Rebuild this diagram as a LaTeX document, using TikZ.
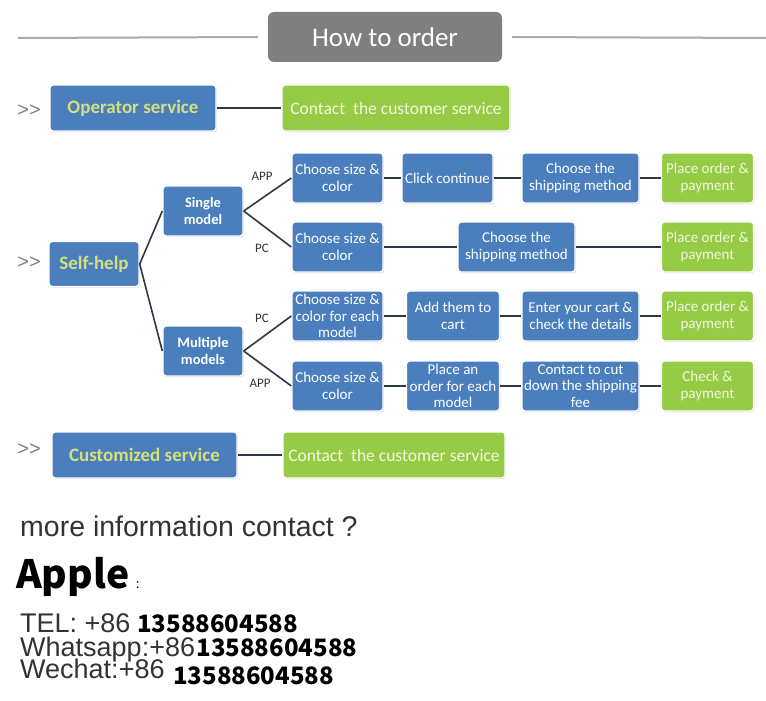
\documentclass[tikz,border=0pt]{standalone}
\usepackage{fontspec}
\setmainfont{Carlito}
\newfontfamily\infofont{Liberation Sans}
\newfontfamily\cjkfont{Noto Sans CJK SC}
\usepackage{xcolor}
\usepackage{tikz}
\usetikzlibrary{shadows, positioning, calc}
\definecolor{ordblue}{HTML}{4A7EBD}
\definecolor{ordgreen}{HTML}{96CC45}
\definecolor{ordgray}{HTML}{7F7F7F}
\definecolor{rulegray}{HTML}{ABABAB}
\definecolor{linkcol}{HTML}{2A3848}
\definecolor{headtext}{HTML}{D6E07A}
\definecolor{paytext}{HTML}{F3F6E2}
\definecolor{infogray}{HTML}{333333}
\tikzset{
  stepbox/.style={rectangle, rounded corners=3pt, fill=ordblue, draw=white,
    line width=1.4pt, drop shadow={shadow xshift=0.8pt, shadow yshift=-1.2pt, opacity=0.3},
    text=white, align=center, inner sep=1pt, minimum height=50,
    font=\fontsize{15}{17.5}\selectfont},
  paybox/.style={stepbox, fill=ordgreen, text=paytext, minimum width=92},
  headbox/.style={stepbox, text=headtext, minimum height=46,
    font=\bfseries\fontsize{19}{22}\selectfont},
  contactbox/.style={paybox, minimum height=46, font=\fontsize{17.5}{20}\selectfont},
  modelbox/.style={stepbox, minimum width=80, font=\bfseries\fontsize{14.5}{17}\selectfont},
  titlebox/.style={rectangle, rounded corners=6pt, fill=ordgray, text=white,
    minimum width=234, minimum height=50, font=\fontsize{27}{30}\selectfont},
  link/.style={draw=linkcol, line width=2pt},
  branch/.style={draw=linkcol, line width=1.6pt},
  pathlabel/.style={text=black!80, font=\fontsize{13}{15}\selectfont},
  chevron/.style={text=black!50, font=\infofont\fontsize{20}{20}\selectfont},
  infotext/.style={inner sep=0pt, anchor=base west, text=infogray,
    font=\infofont\fontsize{27}{27}\selectfont},
  numtext/.style={inner sep=0pt, anchor=base west, text=black,
    font=\cjkfont\bfseries\fontsize{24}{24}\selectfont},
}
\begin{document}
\begin{tikzpicture}[x=1pt, y=-1pt]
  \useasboundingbox (0,0) rectangle (766,701);

  % heading
  \node[titlebox] (title) at (385,37) {How to order};
  \coordinate (ruleL) at (18,38);
  \coordinate (ruleR) at (766,38);
  \draw[rulegray, line width=2pt] (ruleL) -- ([xshift=-10pt]title.west);
  \draw[rulegray, line width=2pt] ([xshift=10pt]title.east) -- (ruleR);

  % operator service
  \node[chevron] (chev1) at (29,111) {>{}>};
  \node[headbox, minimum width=166] (op) at (133,108) {Operator service};
  \node[contactbox, minimum width=228] (opc) at (396,108) {Contact\ \ the customer service};
  \draw[link] (op) -- (opc);

  % self-help
  \node[chevron] (chev2) at (29,263) {>{}>};
  \node[headbox, minimum width=90, minimum height=45] (self) at (94,264) {Self-help};
  \node[modelbox] (single) at (203,211) {Single\\model};
  \node[modelbox] (multi) at (203,351) {Multiple\\models};
  \draw[branch] (self.east) -- (single.west);
  \draw[branch] (self.east) -- (multi.west);

  % single model, APP
  \node[stepbox, minimum width=91] (app1) at (337.5,178) {Choose size \&\\color};
  \node[stepbox, minimum width=91] (click) at (447.5,178) {Click continue};
  \node[stepbox, minimum width=117] (ship1) at (580.5,178) {Choose the\\shipping method};
  \node[paybox] (pay1) at (707.5,178) {Place order \&\\payment};
  % single model, PC
  \node[stepbox, minimum width=91] (pc1) at (337.5,247) {Choose size \&\\color};
  \node[stepbox, minimum width=117] (ship2) at (516.5,247) {Choose the\\shipping method};
  \node[paybox] (pay2) at (707.5,247) {Place order \&\\payment};
  % multiple models, PC
  \node[stepbox, minimum width=91, inner sep=0pt,
    font=\fontsize{15}{16.5}\selectfont] (pc2) at (337.5,316) {Choose size \&\\color for each\\model};
  \node[stepbox, minimum width=93] (cart) at (453,316) {Add them to\\cart};
  \node[stepbox, minimum width=117] (check) at (580.5,316) {Enter your cart \&\\check the details};
  \node[paybox] (pay3) at (707.5,316) {Place order \&\\payment};
  % multiple models, APP
  \node[stepbox, minimum width=91] (app2) at (337.5,386) {Choose size \&\\color};
  \node[stepbox, minimum width=93, inner sep=0pt,
    font=\fontsize{15}{16.5}\selectfont] (each) at (453,386) {Place an\\order for each\\model};
  \node[stepbox, minimum width=117, inner sep=0pt,
    font=\fontsize{15}{16.5}\selectfont] (cut) at (580.5,386) {Contact to cut\\down the shipping\\fee};
  \node[paybox] (pay4) at (707.5,386) {Check \&\\payment};

  \draw[branch] (single.east) -- (app1.west);
  \draw[branch] (single.east) -- (pc1.west);
  \draw[branch] (multi.east) -- (pc2.west);
  \draw[branch] (multi.east) -- (app2.west);
  \node[pathlabel] (lblapp1) at (262,176) {APP};
  \node[pathlabel] (lblpc1) at (262,248) {PC};
  \node[pathlabel] (lblpc2) at (262,318) {PC};
  \node[pathlabel] (lblapp2) at (260,383) {APP};

  \draw[link] (app1) -- (click);
  \draw[link] (click) -- (ship1);
  \draw[link] (ship1) -- (pay1);
  \draw[link] (pc1) -- (ship2);
  \draw[link] (ship2) -- (pay2);
  \draw[link] (pc2) -- (cart);
  \draw[link] (cart) -- (check);
  \draw[link] (check) -- (pay3);
  \draw[link] (app2) -- (each);
  \draw[link] (each) -- (cut);
  \draw[link] (cut) -- (pay4);

  % customized service
  \node[chevron] (chev3) at (29,450) {>{}>};
  \node[headbox, minimum width=185] (cust) at (144.5,455) {Customized service};
  \node[contactbox, minimum width=222] (custc) at (394,455) {Contact\ \ the customer service};
  \draw[link] (cust) -- (custc);

  % contact details
  \node[infotext, font=\infofont\fontsize{28.5}{28.5}\selectfont] (more) at (20,536) {more information contact ?};
  \node[inner sep=0pt, anchor=base west, font=\cjkfont\bfseries\fontsize{39}{39}\selectfont] (apple) at (16,588) {Apple};
  \node[inner sep=0pt, anchor=base west, font=\cjkfont\fontsize{13}{13}\selectfont] (colon) at ([xshift=6pt]apple.base east) {:};
  \node[infotext] (tel) at (20,632) {TEL: +86};
  \node[numtext] (telno) at (137,632) {13588604588};
  \node[infotext] (whats) at (20,656) {Whatsapp:+86};
  \node[numtext] (whatsno) at ([xshift=1pt]whats.base east) {13588604588};
  \node[infotext] (wechat) at (20,678) {Wechat:+86};
  \node[numtext] (wechatno) at (173,684) {13588604588};
\end{tikzpicture}
\end{document}
